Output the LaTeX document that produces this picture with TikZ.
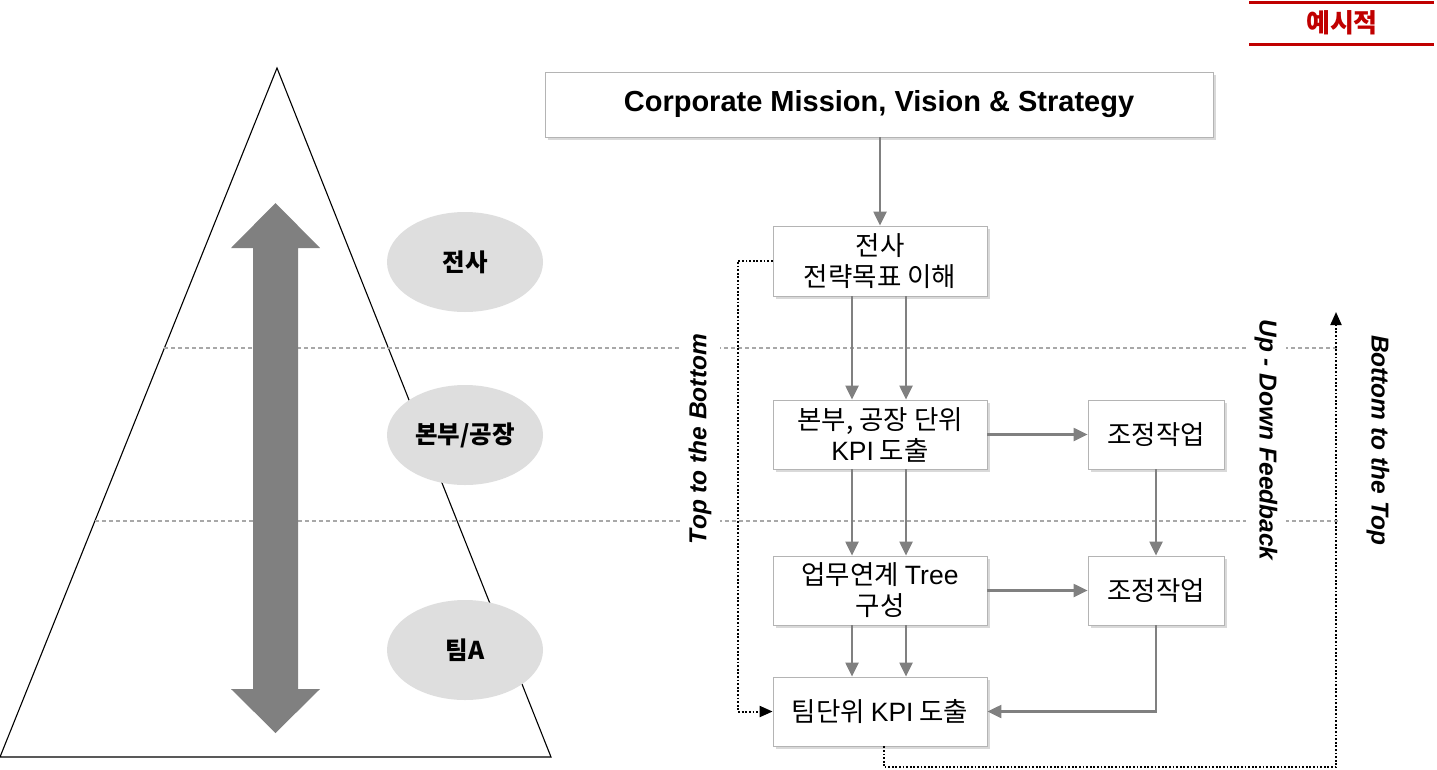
\documentclass[tikz,border=0pt]{standalone}
\usepackage{fontspec}
\setmainfont{Liberation Sans}
\newfontfamily\kr{Noto Sans CJK KR}
\usetikzlibrary{shadows,arrows.meta,shapes.geometric}
\definecolor{boxline}{HTML}{B4B4B4}
\definecolor{ellfill}{HTML}{DEDEDE}
\definecolor{arrgray}{HTML}{808080}
\definecolor{dashgray}{HTML}{A8A8A8}
\definecolor{redmark}{HTML}{C00000}
\begin{document}
\begin{tikzpicture}[x=1pt,y=-1pt,
  box/.style={draw=boxline, fill=white, line width=0.8pt, align=center, inner sep=0pt,
    font=\kr\fontsize{26.5}{31}\selectfont,
    drop shadow={shadow xshift=3pt, shadow yshift=-3pt, fill=black!15, draw=none, opacity=1}},
  ell/.style={ellipse, fill=ellfill, minimum width=156pt, minimum height=100pt, inner sep=0pt,
    font=\kr\bfseries\fontsize{24.5}{28}\selectfont},
  arr/.style={draw=arrgray, line width=2.2pt, -{Triangle[length=14pt,width=13pt]}},
  dotl/.style={draw=black, line width=2pt, dash pattern=on 1.8pt off 1.8pt,
    -{Triangle[length=13pt,width=11pt]}},
  dashl/.style={draw=dashgray, line width=1.1pt, dash pattern=on 4pt off 3pt},
  vlabel/.style={fill=white, inner sep=9pt, font=\bfseries\itshape\fontsize{24.5}{28}\selectfont}
]
\useasboundingbox (0,0) rectangle (1437,769);

% red mark
\draw[redmark, line width=3pt] (1249,2) -- (1434,2);
\draw[redmark, line width=3pt] (1249,44) -- (1434,44);
\node[text=redmark, font=\kr\bfseries\fontsize{26}{28}\selectfont] (mark) at (1342,23) {예시적};

% pyramid
\draw[black, line width=1.1pt] (277,68) -- (551,757) -- (0,757) -- cycle;

% dashed level lines
\draw[dashl] (164.4,348) -- (1338,348);
\draw[dashl] (94.9,521) -- (1338,521);

% big double arrow
\fill[arrgray] (275.5,203) -- (320,248) -- (298,248) -- (298,689) -- (320,689) -- (275.5,733)
  -- (231,689) -- (253,689) -- (253,248) -- (231,248) -- cycle;

% ellipses
\node[ell] (e1) at (465,262) {전사};
\node[ell] (e2) at (465,435) {본부/공장};
\node[ell] (e3) at (465,650) {팀A};

% boxes
\node[box, minimum width=668pt, minimum height=65pt, font=\bfseries\fontsize{29}{32}\selectfont]
  (corp) at (879,104.5) {Corporate Mission, Vision \& Strategy};
\node[box, minimum width=214pt, minimum height=70pt] (b1) at (880,261) {전사\\전략목표 이해};
\node[box, minimum width=214pt, minimum height=69pt] (b2) at (880,434.5) {본부, 공장 단위\\{\rmfamily KPI} 도출};
\node[box, minimum width=214pt, minimum height=69pt] (b3) at (880,590.5) {업무연계 {\rmfamily Tree}\\구성};
\node[box, minimum width=214pt, minimum height=69pt] (b4) at (880,711.5) {팀단위 {\rmfamily KPI} 도출};
\node[box, minimum width=136pt, minimum height=69pt] (a1) at (1156,434.5) {조정작업};
\node[box, minimum width=136pt, minimum height=69pt] (a2) at (1156,590.5) {조정작업};

% solid arrows
\draw[arr] (corp.south -| b1.north) -- (b1.north);
\draw[arr] ([xshift=-28pt]b1.south) -- ([xshift=-28pt]b2.north);
\draw[arr] ([xshift=26pt]b1.south) -- ([xshift=26pt]b2.north);
\draw[arr] ([xshift=-28pt]b2.south) -- ([xshift=-28pt]b3.north);
\draw[arr] ([xshift=26pt]b2.south) -- ([xshift=26pt]b3.north);
\draw[arr] ([xshift=-28pt]b3.south) -- ([xshift=-28pt]b4.north);
\draw[arr] ([xshift=26pt]b3.south) -- ([xshift=26pt]b4.north);
\draw[arr] (b2.east) -- (a1.west);
\draw[arr] (b3.east) -- (a2.west);
\draw[arr] (a1.south) -- (a2.north);
\draw[arr] (a2.south) |- (b4.east);

% dotted feedback lines
\coordinate (top) at (1336,312);
\draw[dotl] (b1.west) -- ++(-35,0) |- (b4.west);
\draw[dotl] ([xshift=4pt]b4.south) -- ++(0,21) -| (top);

% vertical labels
\node[vlabel, rotate=90] (l1) at (700,439) {Top to the Bottom};
\node[vlabel, rotate=-90] (l2) at (1266,440) {Up - Down Feedback};
\node[vlabel, rotate=-90] (l3) at (1378,440) {Bottom to the Top};
\end{tikzpicture}
\end{document}
